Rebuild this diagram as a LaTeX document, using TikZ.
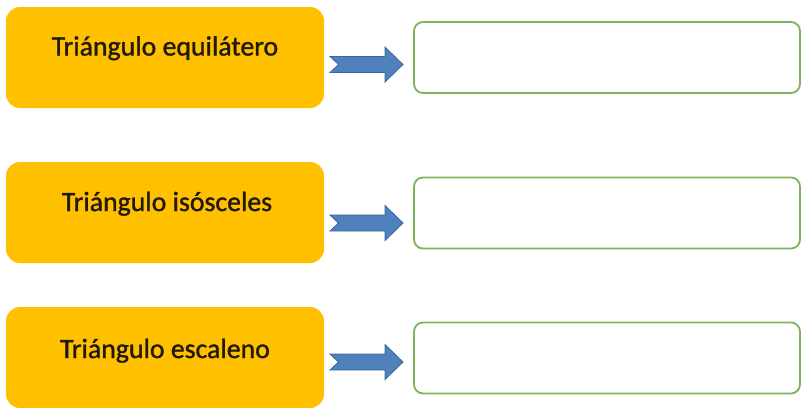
\documentclass[tikz,border=0pt]{standalone}
\usepackage{fontspec}
\setmainfont{Carlito}
\newfontfamily\labelfont[FakeBold=1.2]{Carlito}
\definecolor{gold}{HTML}{FFC000}
\definecolor{arrowblue}{HTML}{4F81BD}
\definecolor{arrowedge}{HTML}{3A679E}
\definecolor{boxgreen}{HTML}{7DB35A}
\definecolor{textdark}{HTML}{221A08}
\begin{document}
\begin{tikzpicture}[x=1pt,y=-1pt,
  obox/.style={fill=gold, draw=none, rounded corners=14pt, minimum width=318pt, minimum height=101pt, inner sep=0pt},
  gbox/.style={draw=boxgreen, line width=1.8pt, fill=white, rounded corners=9pt, minimum width=386pt, minimum height=71pt, inner sep=0pt},
  otext/.style={font=\labelfont\fontsize{27.8}{32}\selectfont, text=textdark, anchor=base, inner sep=0pt},
  barrow/.pic={\filldraw[fill=arrowblue, draw=arrowedge, line width=0.8pt, line join=miter]
     (-36.5,-8) -- (18.5,-8) -- (18.5,-17.5) -- (36.5,0) -- (18.5,17.5) -- (18.5,8) -- (-36.5,8) -- (-28,0) -- cycle;}
]
\useasboundingbox (0,0) rectangle (802,407);
% orange boxes
\node[obox] (o1) at (165,57.5) {};
\node[obox] (o2) at (165,212.5) {};
\node[obox] (o3) at (165,357.5) {};
% texts
\node[otext] (t1) at (165,55.5) {Triángulo equilátero};
\node[otext] (t2) at (167,211) {Triángulo isósceles};
\node[otext] (t3) at (165,358) {Triángulo escaleno};
% green boxes
\node[gbox] (g1) at (607,57.5) {};
\node[gbox] (g2) at (607,213) {};
\node[gbox] (g3) at (607,358) {};
% arrows
\pic at (366.5,64.5) {barrow};
\pic at (366.5,223) {barrow};
\pic at (366.5,362) {barrow};
\end{tikzpicture}
\end{document}
